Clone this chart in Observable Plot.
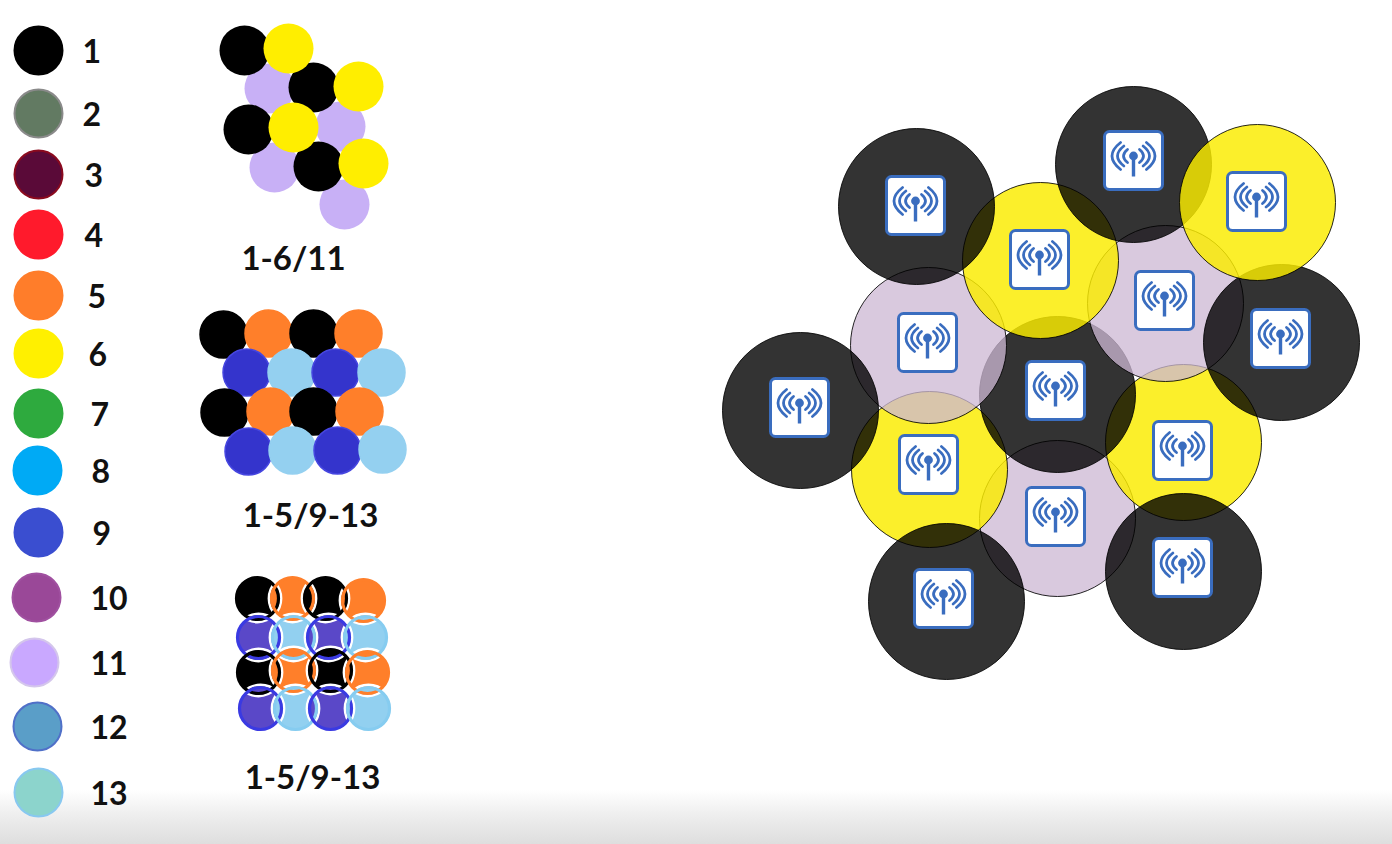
<!DOCTYPE html>
<html>
<head>
<meta charset="utf-8">
<script src="https://cdn.jsdelivr.net/npm/d3@7"></script>
<script src="https://cdn.jsdelivr.net/npm/@observablehq/plot@0.6"></script>
<style>
  html, body { margin: 0; padding: 0; background: #fff; }
  #chart svg { display: block; }
</style>
</head>
<body>
<div id="chart"></div>
<script>
// ---------- Legend: channel numbers and their colours ----------
const legendLabels = ["1","2","3","4","5","6","7","8","9","10","11","12","13"];
const legendFill   = ["#000000","#627a62","#5a0a38","#ff1a2c","#ff7d2a","#fff000","#2eaa3e","#00aaf5","#3a4ed0","#9a4898","#c9a8ff","#5a9ec8","#8cd4cc"];
const legendStroke = ["#000000","#8a8a8a","#8b0a1e","#ff1a2c","#ff7d2a","#fff000","#2eaa3e","#00aaf5","#3a4ed0","#a050a0","#d4c6ec","#5070c8","#88c8f0"];
const legendX      = [38,38,38,38,38,38,38,37,38,36,34,37,38];
const legendY      = [50,113,174,234,295,353,413,470,532,597,662,726,792];
const legendTextX  = [82,82,84,84,87,88,90,91,92,90,90,90,90];

// ---------- Pattern 1: "1-6/11" ----------
const p1Channel = ["11","11","11","11","1","1","1","1","6","6","6","6"];
const p1X = [269,340,274,344, 244,313,248,318, 288,358,293,363];
const p1Y = [88,126,167,204, 50,87,129,166, 48,86,127,163];

// ---------- Pattern 2: "1-5/9-13" ----------
const p2Channel = ["1","5","1","5","9","13","9","13","1","5","1","5","9","13","9","13"];
const p2X = [223,268,313,358, 246,291,335,381, 224,270,313,359, 248,292,337,382];
const p2Y = [334,333,333,333, 372,372,372,372, 412,411,411,411, 451,450,450,449];

// ---------- Pattern 3: "1-5/9-13" (overlapping rings) ----------
const p3Channel = ["1","5","1","5","9","13","9","13","1","5","1","5","9","13","9","13"];
const p3X = [257,292,325,363, 258,293,328,365, 258,293,330,367, 260,295,330,368];
const p3Y = [598,598,598,600, 637,637,637,637, 672,670,670,672, 708,708,708,708];

const patternLabels = ["1-6/11","1-5/9-13","1-5/9-13"];
const patternLabelX = [293,310,312];
const patternLabelY = [259,516,778];

// ---------- Cell map (drawing order) ----------
const cellChannel = ["11","6","6","1","11","11","6","1","1","1","1","1","1","6"];
const cellX = [1057,1183,929,1057,1165,928,1040,916,1133,1281,800,946,1183,1257];
const cellY = [518,442,469,394,303,345,260,206,164,342,410,601,571,202];
const iconX = [1055,1182,928,1055,1164,927,1039,915,1133,1280,799,943,1182,1256];
const iconY = [516,450,464,390,300,342,259,205,160,338,407,598,567,201];

// colour lookup (styles)
const chanColor = {"1":"#000000","5":"#ff7f2a","6":"#ffee00","9":"#3434cc","11":"#c8b0f6","13":"#94d0f0"};
const p2Stroke  = {"1":"#000000","5":"#ff7f2a","9":"#4646e0","13":"#94d0f0"};
const p3Fill    = {"1":"#000000","5":"#ff7f2a","9":"#5a48c8","13":"#92d0f0"};
const p3Ring    = {"1":"#000000","5":"#ff7f2a","9":"#3a3ae2","13":"#86ccf0"};
const cellFill  = {"1":"rgba(0,0,0,0.80)","6":"rgba(250,236,0,0.83)","11":"rgba(205,184,211,0.76)"};

// ---------- build tables ----------
const legend = legendLabels.map((l,i)=>({label:l, x:legendX[i], y:legendY[i], tx:legendTextX[i], fill:legendFill[i], stroke:legendStroke[i]}));
const p1 = p1Channel.map((c,i)=>({c, x:p1X[i], y:p1Y[i]}));
const p2 = p2Channel.map((c,i)=>({c, x:p2X[i], y:p2Y[i]}));
const p3 = p3Channel.map((c,i)=>({c, x:p3X[i], y:p3Y[i]}));
const plabels = patternLabels.map((t,i)=>({t, x:patternLabelX[i], y:patternLabelY[i]}));
const cells = cellChannel.map((c,i)=>({c, x:cellX[i], y:cellY[i], ix:iconX[i], iy:iconY[i]}));

// antenna icon
const blue = "#3a6dbf";
function arc(h, v, side) {
  return `M${31 + side*h*0.6} ${26.5 - v} Q${31 + side*h*1.4} 26.5 ${31 + side*h*0.6} ${26.5 + v}`;
}
const arcs = [[10,6.5],[16,10],[21.5,13.5]].map(([h,v]) => `<path d='${arc(h,v,-1)}'/><path d='${arc(h,v,1)}'/>`).join("");
const iconSvg = `<svg xmlns='http://www.w3.org/2000/svg' width='62' height='62' viewBox='0 0 62 62'>`
  + `<rect x='2' y='2' width='58' height='58' rx='5' fill='white' stroke='${blue}' stroke-width='3'/>`
  + `<g fill='none' stroke='${blue}' stroke-width='2.8' stroke-linecap='round'>${arcs}</g>`
  + `<line x1='31' y1='27' x2='31' y2='47' stroke='${blue}' stroke-width='3.4'/>`
  + `<circle cx='31' cy='26.5' r='4.4' fill='${blue}'/></svg>`;
const iconURI = "data:image/svg+xml;utf8," + encodeURIComponent(iconSvg);

const font = "Lato, 'Open Sans', sans-serif";

const chart = Plot.plot({
  width: 1392,
  height: 844,
  margin: 0,
  x: {domain: [0, 1392], range: [0, 1392], axis: null},
  y: {domain: [0, 844], range: [0, 844], axis: null},
  color: {type: "identity"},
  style: {background: "linear-gradient(to bottom, #ffffff 0px, #ffffff 790px, #eeeeee 815px, #dedede 844px)"},
  marks: [
    // legend
    Plot.dot(legend, {x:"x", y:"y", r:24, fill:"fill", stroke:"stroke", strokeWidth:2}),
    Plot.text(legend, {x:"tx", y:"y", text:"label", textAnchor:"start", fontSize:32, fontWeight:"bold", fontFamily:font, fill:"#111", dy:2}),
    // pattern 1
    Plot.dot(p1, {x:"x", y:"y", r:25, fill:d=>chanColor[d.c]}),
    // pattern 2
    Plot.dot(p2, {x:"x", y:"y", r:23.5, fill:d=>chanColor[d.c], stroke:d=>p2Stroke[d.c], strokeWidth:1.5}),
    // pattern 3 (discs, white halos, coloured rings)
    Plot.dot(p3, {x:"x", y:"y", r:22, fill:d=>p3Fill[d.c]}),
    Plot.dot(p3, {x:"x", y:"y", r:23.6, fill:"none", stroke:"#ffffff", strokeWidth:2.6}),
    Plot.dot(p3, {x:"x", y:"y", r:21, fill:"none", stroke:d=>p3Ring[d.c], strokeWidth:3.2}),
    // pattern labels
    Plot.text(plabels, {x:"x", y:"y", text:"t", fontSize:33, fontWeight:"bold", fontFamily:font, fill:"#111"}),
    // cell map
    Plot.dot(cells, {x:"x", y:"y", r:78, fill:d=>cellFill[d.c], stroke:"#000", strokeWidth:1, strokeOpacity:0.85}),
    Plot.image(cells, {x:"ix", y:"iy", src:()=>iconURI, width:62, height:62})
  ]
});
document.getElementById("chart").appendChild(chart);
</script>
</body>
</html>
